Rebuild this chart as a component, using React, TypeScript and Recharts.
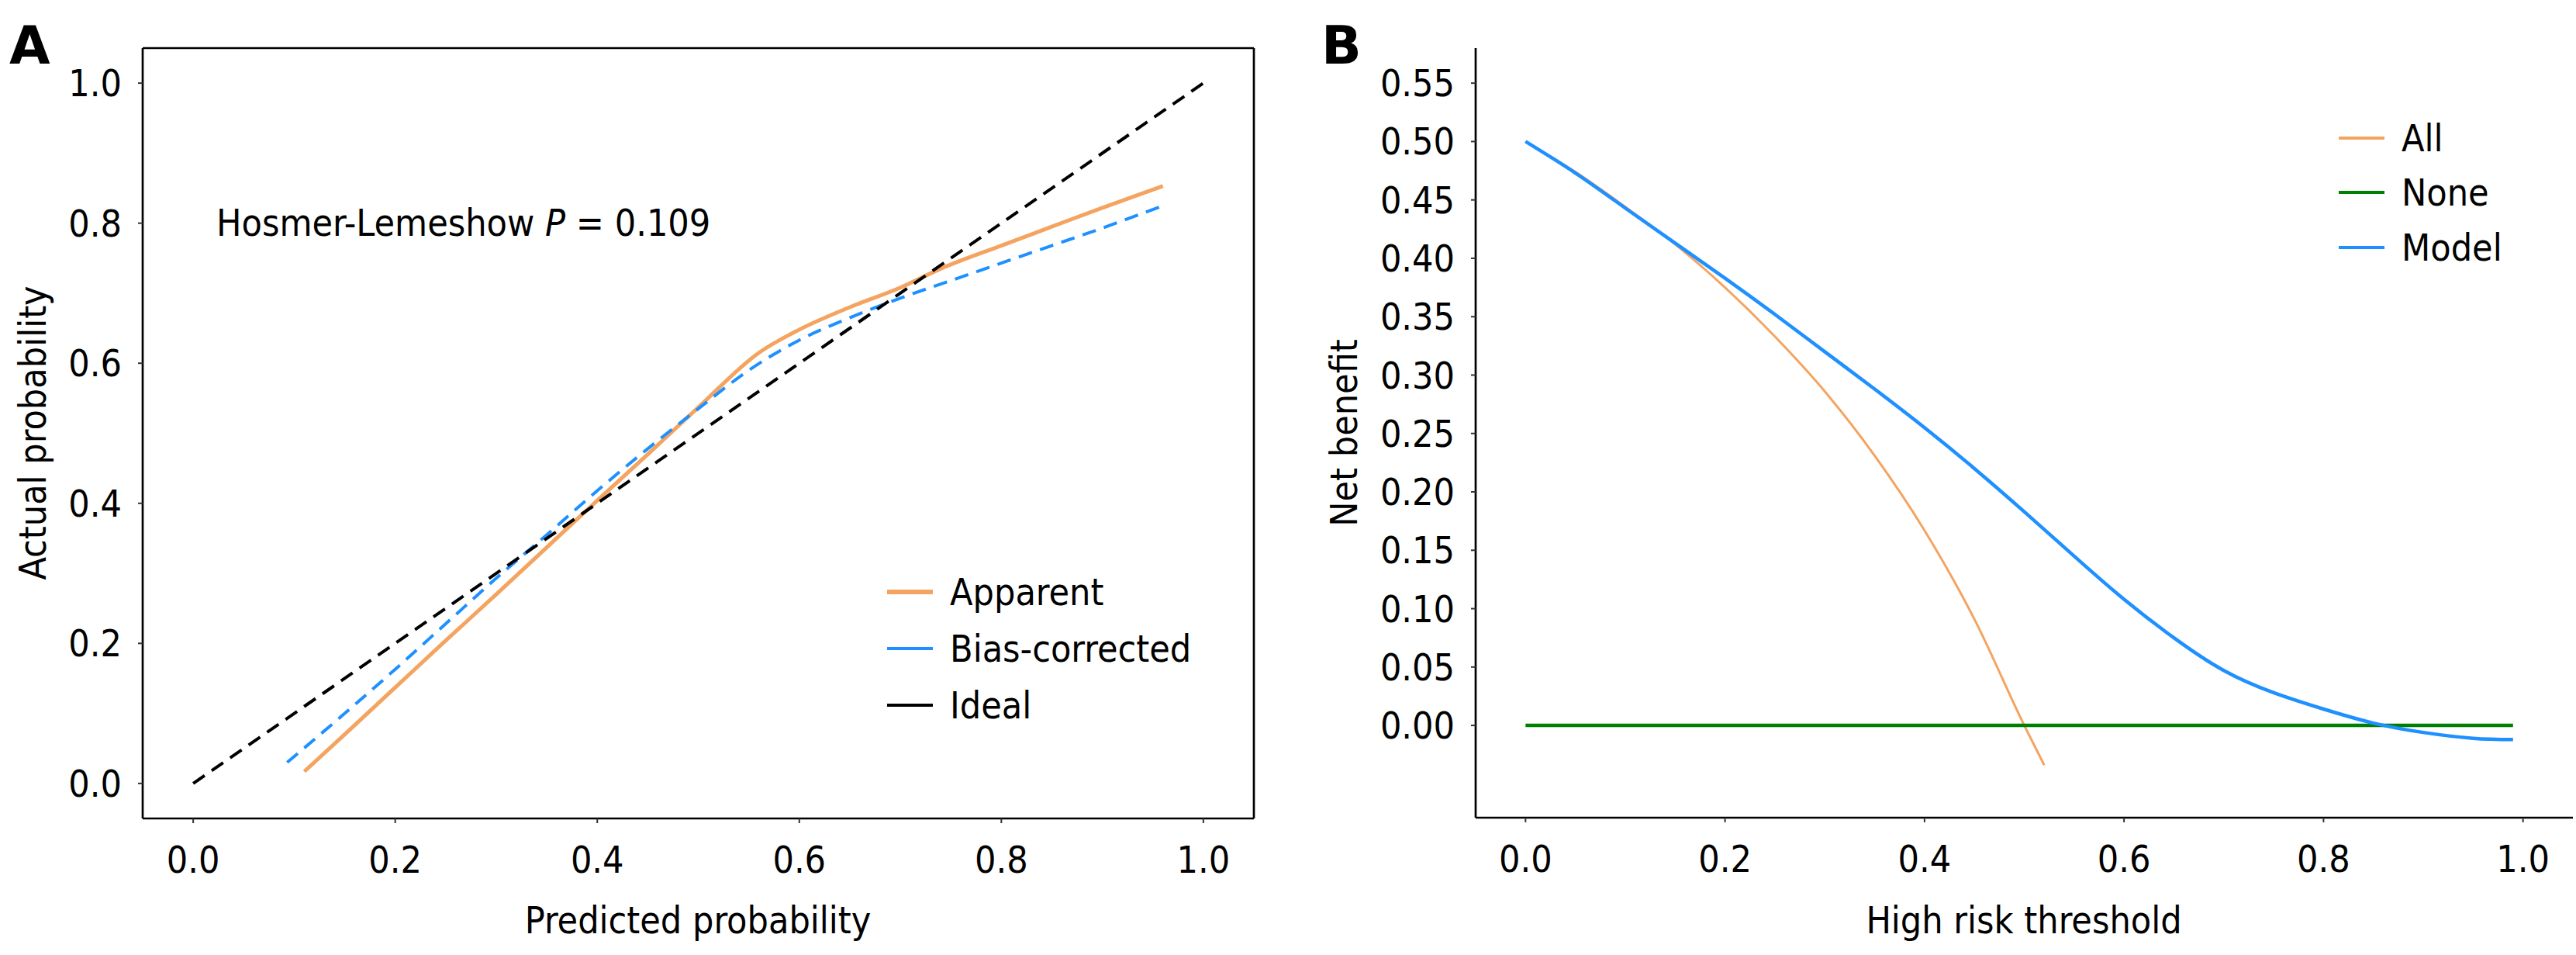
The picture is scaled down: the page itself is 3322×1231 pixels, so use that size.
import React from "react";
import { LineChart, Line, XAxis, YAxis, ReferenceLine } from "recharts";

// ---- panel A: calibration curve ----
const apparentX = [0.11, 0.15, 0.2, 0.25, 0.3, 0.35, 0.4, 0.45, 0.5, 0.56, 0.6, 0.65, 0.7, 0.74, 0.8, 0.85, 0.9, 0.96];
const apparentY = [0.017, 0.07, 0.137, 0.204, 0.27, 0.337, 0.404, 0.47, 0.537, 0.615, 0.648, 0.68, 0.708, 0.735, 0.768, 0.795, 0.822, 0.853];

const biasX = [0.093, 0.15, 0.2, 0.25, 0.3, 0.35, 0.4, 0.45, 0.5, 0.55, 0.6, 0.65, 0.7, 0.75, 0.8, 0.85, 0.9, 0.96];
const biasY = [0.03, 0.1, 0.163, 0.228, 0.293, 0.355, 0.418, 0.478, 0.535, 0.59, 0.633, 0.665, 0.693, 0.718, 0.743, 0.768, 0.793, 0.825];

const idealX = [0, 1];
const idealY = [0, 1];

const calTicks = [0, 0.2, 0.4, 0.6, 0.8, 1.0];

// ---- panel B: decision curve ----
const allX = [0, 0.05, 0.1, 0.15, 0.2, 0.25, 0.3, 0.35, 0.4, 0.45, 0.5, 0.52];
const allY = [0.5, 0.474, 0.444, 0.412, 0.375, 0.333, 0.286, 0.231, 0.167, 0.091, 0.0, -0.034];

const noneX = [0, 0.99];
const noneY = [0, 0];

const modelX = [0, 0.05, 0.1, 0.15, 0.2, 0.25, 0.3, 0.35, 0.4, 0.45, 0.5, 0.55, 0.6, 0.65, 0.7, 0.75, 0.8, 0.85, 0.9, 0.95, 0.99];
const modelY = [0.5, 0.473, 0.443, 0.413, 0.383, 0.352, 0.32, 0.288, 0.255, 0.22, 0.183, 0.145, 0.108, 0.075, 0.047, 0.028, 0.014, 0.002, -0.006, -0.011, -0.012];

const threshTicks = [0, 0.2, 0.4, 0.6, 0.8, 1.0];
const benefitTicks = [0, 0.05, 0.1, 0.15, 0.2, 0.25, 0.3, 0.35, 0.4, 0.45, 0.5, 0.55];

const FONT = "'DejaVu Sans Condensed', 'DejaVu Sans', sans-serif";
const FS = 48;
const ORANGE = "#F4A460";
const BLUE = "#1E90FF";
const GREEN = "#008000";
const DASH = "18 11";

const pts = (xs: number[], ys: number[]) => xs.map((x, i) => ({ x, y: ys[i] }));

const tickStyle = { fontSize: FS, fill: "#000", fontFamily: FONT };
const tickLine = { stroke: "#333", strokeWidth: 2 };
const axisLine = { stroke: "#000", strokeWidth: 2.7 };

const CalibrationPanel = () => (
  <LineChart width={1650} height={1231} margin={{ top: 62, left: 64, right: 33, bottom: 56 }}>
    <XAxis
      type="number"
      dataKey="x"
      domain={[-0.05, 1.05]}
      ticks={calTicks}
      allowDataOverflow
      tickFormatter={(v: number) => v.toFixed(1)}
      tick={tickStyle}
      tickLine={tickLine}
      axisLine={axisLine}
      tickSize={6}
      tickMargin={30}
      height={120}
    />
    <YAxis
      type="number"
      dataKey="y"
      domain={[-0.05, 1.05]}
      ticks={calTicks}
      allowDataOverflow
      tickFormatter={(v: number) => v.toFixed(1)}
      tick={tickStyle}
      tickLine={tickLine}
      axisLine={axisLine}
      tickSize={6}
      tickMargin={21}
      width={120}
    />
    <ReferenceLine y={1.05} stroke="#000" strokeWidth={2.7} ifOverflow="visible" />
    <ReferenceLine x={1.05} stroke="#000" strokeWidth={2.7} ifOverflow="visible" />
    <Line data={pts(apparentX, apparentY)} dataKey="y" type="monotone" stroke={ORANGE} strokeWidth={5} dot={false} isAnimationActive={false} />
    <Line data={pts(biasX, biasY)} dataKey="y" type="monotone" stroke={BLUE} strokeWidth={4} strokeDasharray={DASH} dot={false} isAnimationActive={false} />
    <Line data={pts(idealX, idealY)} dataKey="y" type="linear" stroke="#000" strokeWidth={4} strokeDasharray={DASH} dot={false} isAnimationActive={false} />
  </LineChart>
);

const DecisionPanel = () => (
  <LineChart width={1672} height={1231} margin={{ top: 62, left: 103, right: 4, bottom: 57 }}>
    <XAxis
      type="number"
      dataKey="x"
      domain={[-0.05, 1.05]}
      ticks={threshTicks}
      allowDataOverflow
      tickFormatter={(v: number) => v.toFixed(1)}
      tick={tickStyle}
      tickLine={tickLine}
      axisLine={axisLine}
      tickSize={6}
      tickMargin={30}
      height={120}
    />
    <YAxis
      type="number"
      dataKey="y"
      domain={[-0.079, 0.58]}
      ticks={benefitTicks}
      allowDataOverflow
      tickFormatter={(v: number) => v.toFixed(2)}
      tick={tickStyle}
      tickLine={tickLine}
      axisLine={axisLine}
      tickSize={6}
      tickMargin={21}
      width={150}
    />
    <Line data={pts(allX, allY)} dataKey="y" type="monotone" stroke={ORANGE} strokeWidth={3} dot={false} isAnimationActive={false} />
    <Line data={pts(noneX, noneY)} dataKey="y" type="linear" stroke={GREEN} strokeWidth={4.5} dot={false} isAnimationActive={false} />
    <Line data={pts(modelX, modelY)} dataKey="y" type="natural" stroke={BLUE} strokeWidth={4.5} dot={false} isAnimationActive={false} />
  </LineChart>
);

const legendA = [
  { label: "Apparent", color: ORANGE, width: 6, y: 763 },
  { label: "Bias-corrected", color: BLUE, width: 4, y: 836 },
  { label: "Ideal", color: "#000", width: 4, y: 909 },
];

const legendB = [
  { label: "All", color: ORANGE, width: 4, y: 178 },
  { label: "None", color: GREEN, width: 4, y: 248 },
  { label: "Model", color: BLUE, width: 4, y: 319 },
];

const Overlay = () => (
  <svg width={3322} height={1231} style={{ position: "absolute", left: 0, top: 0, pointerEvents: "none" }}>
    <g fontFamily={FONT} fontSize={FS} fill="#000">
      <text x={12} y={82} fontSize={68} fontWeight="bold" fontFamily="'DejaVu Sans', sans-serif">A</text>
      <text x={1704} y={82} fontSize={68} fontWeight="bold" fontFamily="'DejaVu Sans', sans-serif">B</text>

      <text x={279} y={304}>
        Hosmer-Lemeshow <tspan fontStyle="italic">P</tspan> = 0.109
      </text>

      <text x={900} y={1203} textAnchor="middle">Predicted probability</text>
      <text transform="translate(59,558) rotate(-90)" textAnchor="middle">Actual probability</text>
      <text x={2610} y={1203} textAnchor="middle">High risk threshold</text>
      <text transform="translate(1750,558) rotate(-90)" textAnchor="middle">Net benefit</text>

      {legendA.map((d) => (
        <g key={d.label}>
          <line x1={1144} x2={1203} y1={d.y} y2={d.y} stroke={d.color} strokeWidth={d.width} />
          <text x={1225} y={d.y + 17}>{d.label}</text>
        </g>
      ))}
      {legendB.map((d) => (
        <g key={d.label}>
          <line x1={3016} x2={3075} y1={d.y} y2={d.y} stroke={d.color} strokeWidth={d.width} />
          <text x={3097} y={d.y + 17}>{d.label}</text>
        </g>
      ))}
    </g>
  </svg>
);

export default function App() {
  return (
    <div style={{ position: "absolute", left: 0, top: 0, width: 3322, height: 1231, background: "#fff" }}>
      <div style={{ position: "absolute", left: 0, top: 0 }}>
        <CalibrationPanel />
      </div>
      <div style={{ position: "absolute", left: 1650, top: 0 }}>
        <DecisionPanel />
      </div>
      <Overlay />
    </div>
  );
}
